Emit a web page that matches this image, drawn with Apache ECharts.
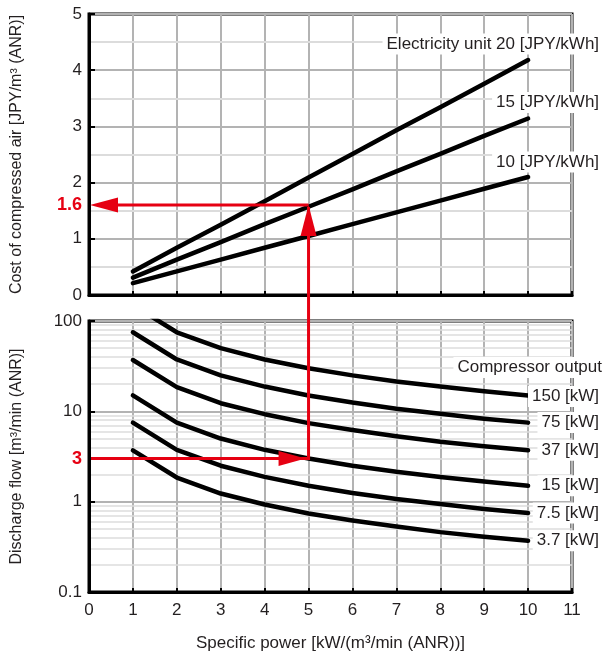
<!DOCTYPE html>
<html>
<head>
<meta charset="utf-8">
<script src="https://cdn.jsdelivr.net/npm/echarts@6/dist/echarts.min.js"></script>
<style>
  html, body { margin: 0; padding: 0; background: #fff; }
  #chart { width: 607px; height: 653px; }
</style>
</head>
<body>
<div id="chart"></div>
<script>
'use strict';

// --- specific power [kW/(m3/min)] at which the curves are read
var powerX = [1, 2, 3, 4, 5, 6, 7, 8, 9, 10];

// --- cost of compressed air [JPY/m3] per electricity unit price
var cost20 = [0.42, 0.84, 1.25, 1.67, 2.09, 2.51, 2.93, 3.34, 3.76, 4.18];
var cost15 = [0.31, 0.63, 0.94, 1.26, 1.57, 1.88, 2.20, 2.51, 2.83, 3.14];
var cost10 = [0.21, 0.42, 0.63, 0.84, 1.05, 1.26, 1.47, 1.68, 1.89, 2.10];
var costNames = ['Electricity unit 20 [JPY/kWh]', '15 [JPY/kWh]', '10 [JPY/kWh]'];

// --- discharge flow [m3/min] per compressor output
var flow150 = [150, 75, 50, 37.5, 30, 25, 21.4, 18.8, 16.7, 15];
var flow75 = [75, 37.5, 25, 18.8, 15, 12.5, 10.7, 9.4, 8.3, 7.5];
var flow37 = [37, 18.5, 12.3, 9.3, 7.4, 6.2, 5.3, 4.6, 4.1, 3.7];
var flow15 = [15, 7.5, 5, 3.75, 3, 2.5, 2.14, 1.88, 1.67, 1.5];
var flow7_5 = [7.5, 3.75, 2.5, 1.88, 1.5, 1.25, 1.07, 0.94, 0.83, 0.75];
var flow3_7 = [3.7, 1.85, 1.23, 0.93, 0.74, 0.62, 0.53, 0.46, 0.41, 0.37];
var flowNames = ['150 [kW]', '75 [kW]', '37 [kW]', '15 [kW]', '7.5 [kW]', '3.7 [kW]'];

// --- minor grid lines
var costMinorLines = [0.5, 1.5, 2.5, 3.5, 4.5];
var flowMinorLines = [0.2, 0.3, 0.4, 0.5, 0.6, 0.7, 0.8, 0.9,
  2, 3, 4, 5, 6, 7, 8, 9, 20, 30, 40, 50, 60, 70, 80, 90];

// --- worked example (red arrows)
var examplePower = 5;
var exampleFlow = 3;
var exampleCost = 1.6;

var FONT = '"Liberation Sans", Arial, Helvetica, sans-serif';
var TXT = '#231f20';
var RED = '#e60012';
var GRID_DARK = '#b3b3b3';
var GRID_LIGHT = '#dcdcdc';

var myChart = echarts.init(document.getElementById('chart'), null, { renderer: 'canvas' });

function pairs(ys) {
  return powerX.map(function (x, i) {
    return [x, ys[i]];
  });
}

function curve(name, ys, gridIdx, labelDy) {
  return {
    name: name,
    type: 'line',
    xAxisIndex: gridIdx,
    yAxisIndex: gridIdx,
    data: pairs(ys),
    symbol: 'none',
    z: 3,
    lineStyle: { color: '#000', width: 4.5, cap: 'round', join: 'round' },
    endLabel: {
      show: true,
      formatter: name,
      distance: 0,
      align: 'right',
      offset: [74, labelDy],
      color: TXT,
      fontFamily: FONT,
      fontSize: 17,
      backgroundColor: '#fff',
      padding: [2, 3, 2, 4]
    }
  };
}

// invisible carrier series whose markLines draw the minor grid
function minorGrid(gridIdx, values, width) {
  return {
    name: 'minorGrid' + gridIdx,
    type: 'line',
    xAxisIndex: gridIdx,
    yAxisIndex: gridIdx,
    data: [[0, values[0]]],
    symbol: 'none',
    lineStyle: { opacity: 0 },
    z: 0,
    silent: true,
    markLine: {
      silent: true,
      z: 0,
      symbol: 'none',
      animation: false,
      label: { show: false },
      lineStyle: { color: GRID_LIGHT, width: width, type: 'solid' },
      data: values.map(function (v) {
        return { yAxis: v };
      })
    }
  };
}

var xAxisBase = {
  type: 'value',
  min: 0,
  max: 11,
  interval: 1,
  axisLine: { show: true, onZero: false, lineStyle: { color: '#000', width: 3 } },
  axisTick: { show: true, inside: true, length: 4, lineStyle: { color: '#000', width: 2 } },
  splitLine: { show: true, lineStyle: { color: GRID_DARK, width: 2 } }
};

var option = {
  animation: false,
  backgroundColor: '#fff',
  textStyle: { fontFamily: FONT },
  grid: [
    { left: 89, right: 35, top: 14, height: 281, show: true, borderColor: '#000', borderWidth: 3, containLabel: false },
    { left: 89, right: 35, top: 321, height: 272, show: true, borderColor: '#000', borderWidth: 3, containLabel: false }
  ],
  xAxis: [
    Object.assign({}, xAxisBase, {
      gridIndex: 0,
      axisLabel: { show: false }
    }),
    Object.assign({}, xAxisBase, {
      gridIndex: 1,
      name: 'Specific power [kW/(m³/min (ANR))]',
      nameLocation: 'middle',
      nameGap: 43,
      nameTextStyle: { color: TXT, fontSize: 17, fontFamily: FONT },
      axisLabel: { color: TXT, fontSize: 17, margin: 10, fontFamily: FONT }
    })
  ],
  yAxis: [
    {
      type: 'value',
      gridIndex: 0,
      min: 0,
      max: 5,
      interval: 1,
      name: 'Cost of compressed air [JPY/m³ (ANR)]',
      nameLocation: 'middle',
      nameGap: 64,
      nameTextStyle: { color: TXT, fontSize: 16, fontFamily: FONT },
      axisLine: { show: true, lineStyle: { color: '#000', width: 3 } },
      axisTick: { show: true, inside: true, length: 6, lineStyle: { color: '#000', width: 2 } },
      axisLabel: { color: TXT, fontSize: 17, margin: 7, fontFamily: FONT },
      splitLine: { show: true, lineStyle: { color: GRID_DARK, width: 2 } }
    },
    {
      type: 'log',
      logBase: 10,
      gridIndex: 1,
      min: 0.1,
      max: 100,
      name: 'Discharge flow [m³/min (ANR)]',
      nameLocation: 'middle',
      nameGap: 64,
      nameTextStyle: { color: TXT, fontSize: 16, fontFamily: FONT },
      axisLine: { show: true, lineStyle: { color: '#000', width: 3 } },
      axisTick: { show: true, inside: true, length: 6, lineStyle: { color: '#000', width: 2 } },
      axisLabel: { color: TXT, fontSize: 17, margin: 7, fontFamily: FONT },
      splitLine: { show: true, lineStyle: { color: GRID_DARK, width: 2 } }
    }
  ],
  series: [
    minorGrid(0, costMinorLines, 2),
    minorGrid(1, flowMinorLines, 1.5),
    curve(costNames[0], cost20, 0, -16),
    curve(costNames[1], cost15, 0, -16),
    curve(costNames[2], cost10, 0, -15),
    curve(flowNames[0], flow150, 1, 1),
    curve(flowNames[1], flow75, 1, 0),
    curve(flowNames[2], flow37, 1, 0),
    curve(flowNames[3], flow15, 1, 0),
    curve(flowNames[4], flow7_5, 1, 0),
    curve(flowNames[5], flow3_7, 1, 0)
  ]
};

myChart.setOption(option);

// --- red example arrows, placed through the axes' own scales
function drawExample() {
  var a = myChart.convertToPixel({ gridIndex: 1 }, [0, exampleFlow]);
  var b = myChart.convertToPixel({ gridIndex: 1 }, [examplePower, exampleFlow]);
  var c = myChart.convertToPixel({ gridIndex: 0 }, [examplePower, exampleCost]);
  var d = myChart.convertToPixel({ gridIndex: 0 }, [0, exampleCost]);
  var red = { stroke: RED, lineWidth: 3, fill: null };
  var head = { fill: RED, stroke: null };

  var els = [
    { type: 'polyline', z: 10, shape: { points: [[a[0] + 2, a[1]], [b[0], b[1]], [c[0], c[1] + 2]] }, style: red },
    { type: 'polyline', z: 10, shape: { points: [[c[0], c[1]], [d[0] + 20, d[1]]] }, style: red },
    // right-pointing head on flow line
    { type: 'polygon', z: 11, shape: { points: [[b[0] - 3, b[1]], [b[0] - 30, b[1] - 7.5], [b[0] - 30, b[1] + 7.5]] }, style: head },
    // up-pointing head on cost line
    { type: 'polygon', z: 11, shape: { points: [[c[0], c[1]], [c[0] - 8, c[1] + 31], [c[0] + 8, c[1] + 31]] }, style: head },
    // left-pointing head at cost axis
    { type: 'polygon', z: 11, shape: { points: [[d[0] + 1, d[1]], [d[0] + 29, d[1] - 7.5], [d[0] + 29, d[1] + 7.5]] }, style: head },
    {
      type: 'text', z: 11, x: d[0] - 7, y: d[1],
      style: { text: String(exampleCost), fill: RED, font: 'bold 18px ' + FONT, align: 'right', verticalAlign: 'middle' }
    },
    {
      type: 'text', z: 11, x: a[0] - 7, y: a[1],
      style: { text: String(exampleFlow), fill: RED, font: 'bold 18px ' + FONT, align: 'right', verticalAlign: 'middle' }
    },
    {
      type: 'text', z: 12, right: 2, top: 357,
      style: {
        text: 'Compressor output', fill: TXT, font: '17px ' + FONT,
        backgroundColor: '#fff', padding: [2, 3, 2, 4]
      }
    }
  ];
  myChart.setOption({ graphic: els });
}

drawExample();
</script>
</body>
</html>
